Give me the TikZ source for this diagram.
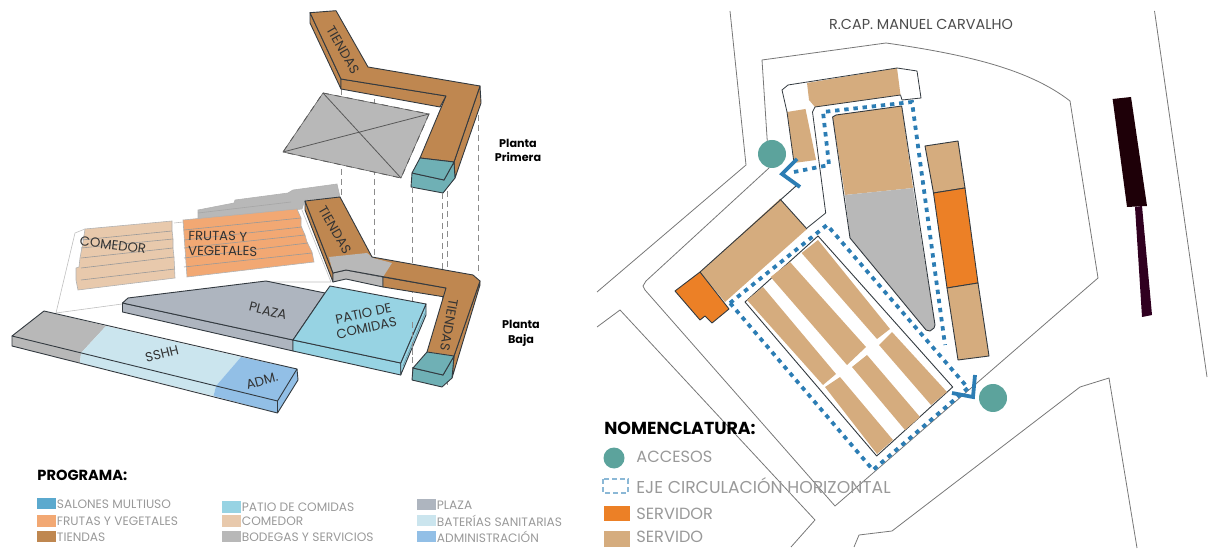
\documentclass[tikz,border=0pt]{standalone}
\usepackage{fontspec}
\setmainfont{Poppins}
\definecolor{tiendas}{HTML}{BF8750}
\definecolor{teal}{HTML}{6FB0B5}
\definecolor{bodegas}{HTML}{B8B8B8}
\definecolor{frutas}{HTML}{F2A873}
\definecolor{comedor}{HTML}{E8C9AC}
\definecolor{plaza}{HTML}{AEB5BF}
\definecolor{patio}{HTML}{97D3E3}
\definecolor{banos}{HTML}{CBE5EE}
\definecolor{adm}{HTML}{92BFE6}
\definecolor{salones}{HTML}{5BA9CE}
\definecolor{servido}{HTML}{D5AC7E}
\definecolor{servidor}{HTML}{EC8026}
\definecolor{acceso}{HTML}{5CA39C}
\definecolor{eje}{HTML}{2C7DB4}
\definecolor{trazo}{HTML}{333A40}
\definecolor{calle}{HTML}{777777}
\definecolor{rotulo}{HTML}{999999}
\definecolor{bloque}{HTML}{1E0008}
\definecolor{bloqueb}{HTML}{300020}
\tikzset{
  face/.style={draw=trazo, line width=0.45pt, line join=round},
  floor/.style={draw=black!25, line width=0.3pt},
  guide/.style={draw=black!45, line width=0.4pt, dash pattern=on 3pt off 2pt},
  road/.style={draw=calle, line width=0.4pt, line join=round},
  eyeline/.style={draw=eje, line width=1.9pt, dash pattern=on 2.2pt off 2.4pt},
  chevron/.style={draw=eje, line width=1.9pt, line join=miter},
  tag/.style={font=\fontsize{6.6}{7.4}\selectfont, text=black!80, align=center, inner sep=0pt},
  legendtxt/.style={font=\fontsize{6.1}{7}\selectfont, text=rotulo, anchor=west, inner sep=0pt},
  nomtxt/.style={font=\fontsize{8.1}{9}\selectfont, text=rotulo, anchor=west, inner sep=0pt},
  headtxt/.style={font=\bfseries\fontsize{7.3}{9}\selectfont, text=black, anchor=west, inner sep=0pt},
  plantatxt/.style={font=\bfseries\fontsize{5.6}{7.4}\selectfont, text=black, align=center, inner sep=0pt}
}
\begin{document}
\begin{tikzpicture}[x=0.5pt, y=-0.5pt]
\useasboundingbox (0,0) rectangle (1208,549);

% upper floor
\draw[guide] (341,89) -- (341,197);
\draw[guide] (374,99) -- (374,257);
\draw[guide] (478,105) -- (478,275);
\filldraw[fill=bodegas, draw=black!60, line width=0.3pt] (323,93) -- (429,114) -- (401,178) -- (283,152) -- cycle;
\draw[black!65, dashed, line width=0.4pt] (323,93) -- (429,114) -- (401,178) -- (283,152) -- cycle;
\draw[black!65, line width=0.4pt] (323,93) -- (401,178) (429,114) -- (283,152);
\filldraw[fill=tiendas, face] (310,12.7) -- (310,23) -- (341,89) -- (341,79) -- cycle;
\filldraw[fill=tiendas, face] (341,79) -- (341,89) -- (440,107) -- (446,96) -- cycle;
\filldraw[fill=tiendas, face] (480,86) -- (481,103) -- (455,178) -- (454,162) -- cycle;
\filldraw[fill=tiendas, face] (310,12.7) -- (336,10.7) -- (368,67) -- (480,86) -- (454,162) -- (420,158) -- (446,96) -- (341,79) -- cycle;
\filldraw[fill=teal, face] (412,173) -- (411,187) -- (443,193) -- (455,178) -- (454,162) -- (444,180) -- cycle;
\filldraw[fill=teal, face] (420,158) -- (454,162) -- (444,180) -- (412,173) -- cycle;
\draw[guide] (412,187) -- (412,380);
\draw[guide] (442,193) -- (442,387);
\draw[guide] (447,191) -- (447,385);
\node[tag, rotate=-60] (tiendasA) at (343,50) {TIENDAS};
\node[plantatxt] (primera) at (518,150.5) {Planta\\Primera};

% stands
\draw[floor] (183,222) -- (174,223) (85,229) -- (75,233) -- (56,313) -- (122,304);
\draw[floor] (302,210) -- (331,282) -- (266,282);
\filldraw[fill=bodegas, draw=black!30, line width=0.3pt] (198,210) -- (234,203) -- (235,200) -- (288,193) -- (293,190) -- (337,184) -- (340,197) -- (305,200) -- (302,209) -- (198,220) -- cycle;
\draw[black!35, line width=0.3pt] (198,213) -- (291,202);
\filldraw[fill=comedor, draw=black!30, line width=0.3pt] (85,229) -- (172,221) -- (172,230) -- (173,239) -- (173,248) -- (174,257) -- (175,278) -- (78,290) -- (76,280) -- (76,268) -- (79,267) -- (80,258) -- (83,242) -- cycle;
\foreach \ya/\xb/\yb in {240/172/231, 248/173/239, 258/173/248, 268/174/257, 280/175/269}
  \draw[black!40, line width=0.3pt] (81,\ya) -- (\xb,\yb);
\filldraw[fill=frutas, draw=black!30, line width=0.3pt] (183,220) -- (297,209) -- (301,218) -- (301,226) -- (305,235) -- (307,242) -- (312,252) -- (314,262) -- (187,277) -- cycle;
\foreach \ya/\xb/\yb in {230/301/218, 240/302/227, 248/305/235, 258/308/243, 267/312/253}
  \draw[black!40, line width=0.3pt] (184,\ya) -- (\xb,\yb);
\node[tag, rotate=-7] (comedorlbl) at (113,245) {COMEDOR};
\node[tag, align=left, anchor=west, rotate=-1] (frutaslbl) at (188,243) {FRUTAS Y\\VEGETALES};

% lower floor
\filldraw[fill=tiendas, face] (305,201) -- (305,210) -- (333,282) -- (333,273) -- cycle;
\filldraw[fill=bodegas, face] (333,273) -- (346,270) -- (383,277) -- (383,287) -- (346,279) -- (333,282) -- cycle;
\filldraw[fill=tiendas, face] (383,277) -- (446,288) -- (445,297) -- (383,287) -- cycle;
\filldraw[fill=tiendas, face] (480,281) -- (480,285) -- (452,378) -- (454,356) -- cycle;
\filldraw[fill=tiendas, draw=none] (305,201) -- (340,197) -- (372,257) -- (473,275) -- (480,281) -- (454,356) -- (427,352) -- (446,288) -- (346,270) -- (333,273) -- cycle;
\filldraw[fill=bodegas, draw=none] (329,257) -- (367,253) -- (373,258) -- (392,263) -- (383,277) -- (346,270) -- (333,273) -- cycle;
\draw[face] (305,201) -- (340,197) -- (372,257) -- (473,275) -- (480,281) -- (454,356) (427,352) -- (446,288) -- (346,270) -- (333,273) -- (305,201);
\filldraw[fill=teal, face] (413,368) -- (412,380) -- (442,387) -- (452,378) -- (454,356) -- (443,375) -- cycle;
\filldraw[fill=teal, face] (427,352) -- (454,356) -- (443,375) -- (413,368) -- cycle;
\node[tag, rotate=-60] (tiendasB) at (335,230) {TIENDAS};
\node[tag, rotate=-100] (tiendasC) at (449,325) {TIENDAS};

\filldraw[fill=plaza, face] (122.5,303) -- (122.5,312) -- (293,351) -- (293,340) -- cycle;
\filldraw[fill=plaza, face] (122.5,303) -- (128,298) -- (266,281) -- (325,293) -- (293,340) -- cycle;
\filldraw[fill=patio, face] (293,340) -- (293,351) -- (400.7,375) -- (400.7,363) -- cycle;
\filldraw[fill=patio, face] (400.7,363) -- (400.7,375) -- (426,315) -- (426,304) -- cycle;
\filldraw[fill=patio, face] (330,286) -- (426,304) -- (400.7,363) -- (293,340) -- (325,293) -- cycle;
\draw[patio!70!black, line width=0.3pt] (403,366) -- (426,311);
\draw[guide] (412,322) -- (412,355);
\node[tag, rotate=-14] (plazalbl) at (268,311) {PLAZA};
\node[tag, rotate=12] (patiolbl) at (365,321) {PATIO DE\\COMIDAS};

% bar in front
\filldraw[fill=bodegas, draw=none] (44,311) -- (106,326) -- (81,353) -- (80,363) -- (12,346) -- (12,336) -- cycle;
\filldraw[fill=banos, draw=none] (106,326) -- (241,357) -- (216,386) -- (213.5,396) -- (80,363) -- (81,353) -- cycle;
\filldraw[fill=adm, draw=none] (241,357) -- (297,369) -- (298,380) -- (277.5,413) -- (213.5,396) -- (216,386) -- cycle;
\draw[face] (44,311) -- (297,369) -- (277.5,401) -- (12,336) -- cycle;
\draw[face] (12,336) -- (12,346) -- (277.5,413) -- (277.5,401) (277.5,413) -- (298,380) -- (297,369);
\node[tag, rotate=14] (sshhlbl) at (162,354) {SSHH};
\node[tag, rotate=15] (admlbl) at (262,381) {ADM.};
\node[plantatxt] (baja) at (521,333) {Planta\\Baja};

% programa
\node[headtxt] (programa) at (37,475) {PROGRAMA:};
\foreach \x/\y/\h/\colr/\txt [count=\i] in {
  37/498/11/salones/{SALONES MULTIUSO},
  37/515/12/frutas/{FRUTAS Y VEGETALES},
  37/531/11/tiendas/{TIENDAS},
  222/501/12/patio/{PATIO DE COMIDAS},
  222/515/12/comedor/{COMEDOR},
  222/531/11/bodegas/{BODEGAS Y SERVICIOS},
  417/499/11/plaza/{PLAZA},
  417/515/11/banos/{BATERÍAS SANITARIAS},
  417/531/11/adm/{ADMINISTRACIÓN}}
{
  \fill[\colr] (\x,\y) rectangle ++(18.5,\h);
  \node[legendtxt] (prog\i) at (\x+19.5,\y+6) {\txt};
}

% streets
\draw[road] (730,11) -- (746,165) -- (597,292);
\draw[road] (1154.5,11) -- (1207,377);
\draw[road] (597,327) -- (620,310) -- (815,520) -- (791,547);
\draw[road] (854,547) -- (859,535) -- (892,531) -- (1080,387) -- (1109,378) -- (1137,548);

% site
\draw[road] (769,168) -- (762,60) -- (886,43) .. controls (970,55) and (1030,70) .. (1070,101) -- (1098,278) -- (835,506) -- (645,290) -- (643,286) -- (646,281) -- (769,168);

% building
\fill[white] (782,90) -- (788,85) -- (897,68) -- (917,71) -- (921,98) -- (902,100) -- (825,110) -- (826,213) -- (787,112) -- cycle;
\filldraw[fill=servido, draw=none] (807,83) -- (897,68) -- (900.5,95) -- (815,107) -- (809,100) -- cycle;
\filldraw[fill=servido, draw=none] (787,112) -- (805.5,109) -- (816,160) -- (794,163) -- cycle;
\draw[road, draw=trazo] (787,112) -- (782,90) -- (788,85) -- (897,68) -- (917,71) -- (921,98) -- (902,100) -- (900.5,95) -- (815,107) -- (812.5,112) -- (825.7,213) -- (807,228);
\draw[road, draw=trazo] (787,112) -- (794,163);
\filldraw[fill=servido, draw=none] (832.6,117) -- (836,115) -- (901.7,106) -- (913,188) -- (845,195) -- cycle;
\filldraw[fill=bodegas, draw=none] (845,195) -- (913,188) -- (935,325) -- (934,328) -- (930,331) -- (926,330) -- (850,238) -- cycle;
\draw[face] (832.6,117) -- (836,115) -- (901.7,106) -- (935,325) -- (934,328) -- (930,331) -- (926,330) -- (850,238) -- cycle;
\filldraw[fill=servido, face] (925,146) -- (958,141) -- (965,188) -- (933.5,193) -- cycle;
\filldraw[fill=servidor, face] (933.5,193) -- (965,188) -- (978,283) -- (947,288) -- cycle;
\filldraw[fill=servido, face] (947,288) -- (978,283) -- (989,356) -- (958,360) -- cycle;
\filldraw[fill=servido, draw=none] (780,199) -- (807,229) -- (725,302) -- (700,272) -- cycle;
\draw[face] (780,199) -- (807,229);
\draw[face] (700,272) -- (796,186);
\filldraw[fill=servidor, face] (675,291) -- (700,272) -- (729,309) -- (712,323) -- (705,316) -- (700,320) -- cycle;

% market
\draw[face] (745,302) -- (818,236) -- (952.7,387) -- (876.7,456) -- cycle;
\foreach \ax/\ay/\bx/\by/\cx/\cy/\dx/\dy [count=\i] in {
  747/300/763/287/836/374/823/385,
  825/387/840/377/893/440/877/454,
  770.6/277/790/262/866/347/847/365,
  852/367/867/355/920/417/905/430,
  801.6/253/818/240/890/329/877/339,
  879/345/892/332/947/392/931/405}
  \fill[servido] (\ax,\ay) -- (\bx,\by) -- (\cx,\cy) -- (\dx,\dy) -- cycle;

% dark block
\fill[bloque] (1112.6,99) -- (1131,97) -- (1147,206) -- (1127,207) -- cycle;
\fill[bloqueb] (1135,207) -- (1142,206) -- (1152,315) -- (1142,317) -- cycle;

% circulation and accesses
\draw[eyeline] (794,172) -- (829,165) -- (823,112) -- (912,102) -- (945,345);
\draw[eyeline] (730,303) -- (827,225) -- (968,388) -- (873,470) -- cycle;
\draw[chevron] (797,159) -- (782,174) -- (800,187);
\draw[chevron] (975,375) -- (973,397) -- (952,393);
\node[circle, fill=acceso, minimum size=14pt, inner sep=0pt] (accesoA) at (772,154) {};
\node[circle, fill=acceso, minimum size=14pt, inner sep=0pt] (accesoB) at (993,398) {};
\node[font=\fontsize{7.2}{8}\selectfont, text=black!70, inner sep=0pt] (calleN) at (921,24) {R.CAP. MANUEL CARVALHO};

% nomenclatura
\node[headtxt, font=\bfseries\fontsize{8.7}{9}\selectfont] (nomen) at (604,428) {NOMENCLATURA:};
\node[circle, fill=acceso, minimum size=10.5pt, inner sep=0pt] (legA) at (614,458) {};
\node[nomtxt] (legAt) at (636,457) {ACCESOS};
\draw[eje!55, line width=0.6pt, dash pattern=on 2.5pt off 1.5pt] (603,479) rectangle (628,493);
\node[nomtxt, font=\fontsize{8.6}{9}\selectfont] (legBt) at (636,486) {EJE CIRCULACIÓN HORIZONTAL};
\fill[servidor] (604,506) rectangle (630,521);
\node[nomtxt] (legCt) at (636,514) {SERVIDOR};
\fill[servido] (604,531) rectangle (630,547);
\node[nomtxt] (legDt) at (636,537) {SERVIDO};
\end{tikzpicture}
\end{document}
